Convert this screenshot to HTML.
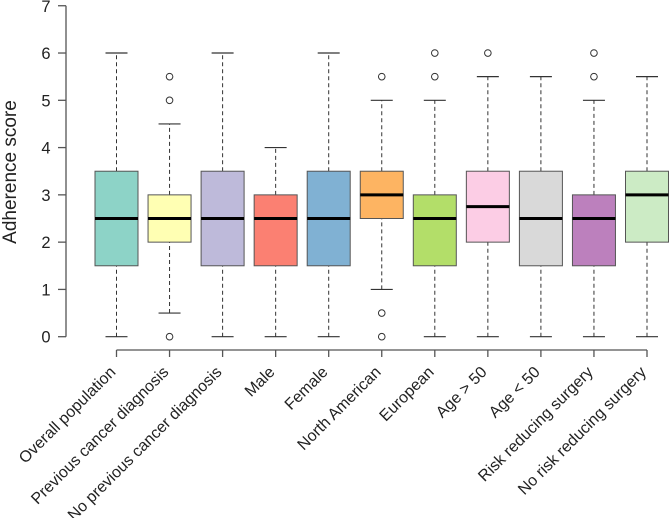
<!DOCTYPE html>
<html><head><meta charset="utf-8"><style>
html,body{margin:0;padding:0;background:#fff;}
svg text{font-family:"Liberation Sans",Arial,sans-serif;fill:#222;}
</style></head><body>
<svg id="chart" width="669" height="518" xmlns="http://www.w3.org/2000/svg"></svg>
<script>
const categories=["Overall population","Previous cancer diagnosis","No previous cancer diagnosis","Male","Female","North American","European","Age > 50","Age < 50","Risk reducing surgery","No risk reducing surgery"];
const whiskerLow=[0,0.5,0,0,0,1,0,0,0,0,0];
const q1=[1.5,2,1.5,1.5,1.5,2.5,1.5,2,1.5,1.5,2];
const medians=[2.5,2.5,2.5,2.5,2.5,3,2.5,2.75,2.5,2.5,3];
const q3=[3.5,3,3.5,3,3.5,3.5,3,3.5,3.5,3,3.5];
const whiskerHigh=[6,4.5,6,4,6,5,5,5.5,5.5,5,5.5];
const outliers=[[],[0,5,5.5],[],[],[],[0,0.5,5.5],[5.5,6],[6],[],[5.5,6],[]];
const colors=["#8DD3C7","#FFFFB3","#BEBADA","#FB8072","#80B1D3","#FDB462","#B3DE69","#FCCDE5","#D9D9D9","#BC80BD","#CCEBC5"];
const yTicks=[0,1,2,3,4,5,6,7];
const NS="http://www.w3.org/2000/svg";
const svg=document.getElementById('chart');
const y=v=>336.7-v*47.28;
const x=i=>116.5+i*53.05;
function el(t,a,p){const e=document.createElementNS(NS,t);for(const k in a)e.setAttribute(k,a[k]);(p||svg).appendChild(e);return e;}
const yax=el('g',{});


el('line',{x1:66,x2:66,y1:y(0),y2:y(7),stroke:'#555','stroke-width':1.3},yax);
yTicks.forEach(t=>{
 el('line',{x1:58,x2:66,y1:y(t),y2:y(t),stroke:'#555','stroke-width':1.3},yax);
 const tx=el('text',{x:46,y:y(t)+6,'text-anchor':'middle','font-size':16.5},yax);
 tx.textContent=t;
 
 
});
const yt=el('text',{x:0,y:0,'text-anchor':'middle','font-size':19,transform:'translate(16,172) rotate(-90)'});
yt.textContent='Adherence score';


const xax=el('g',{});


el('line',{x1:x(0),x2:x(categories.length-1),y1:350,y2:350,stroke:'#555','stroke-width':1.3},xax);
categories.forEach((c,i)=>{
 el('line',{x1:x(i),x2:x(i),y1:350,y2:357,stroke:'#555','stroke-width':1.3},xax);
 const tx=el('text',{x:0,y:0,'text-anchor':'end','font-size':16,transform:`translate(${x(i)},${373}) rotate(-45)`},xax);
 tx.textContent=c;
 
 
});
categories.forEach((c,i)=>{
 const g=el('g',{});
 
 
 const cx=x(i),hw=21.5,cw=11;
 el('line',{x1:cx,x2:cx,y1:y(whiskerLow[i]),y2:y(q1[i]),stroke:'#333','stroke-width':1,'stroke-dasharray':'4,3'},g);
 el('line',{x1:cx,x2:cx,y1:y(q3[i]),y2:y(whiskerHigh[i]),stroke:'#333','stroke-width':1,'stroke-dasharray':'4,3'},g);
 el('line',{x1:cx-cw,x2:cx+cw,y1:y(whiskerLow[i]),y2:y(whiskerLow[i]),stroke:'#333','stroke-width':1.2},g);
 el('line',{x1:cx-cw,x2:cx+cw,y1:y(whiskerHigh[i]),y2:y(whiskerHigh[i]),stroke:'#333','stroke-width':1.2},g);
 el('rect',{x:cx-hw,y:y(q3[i]),width:hw*2,height:y(q1[i])-y(q3[i]),fill:colors[i],stroke:'#555','stroke-width':1},g);
 el('line',{x1:cx-hw,x2:cx+hw,y1:y(medians[i]),y2:y(medians[i]),stroke:'#000','stroke-width':3},g);
 outliers[i].forEach(o=>{
  const p=el('circle',{cx:cx,cy:y(o),r:3.3,fill:'none',stroke:'#333','stroke-width':1},g);
  
  
 });
});
</script>
</body></html>
